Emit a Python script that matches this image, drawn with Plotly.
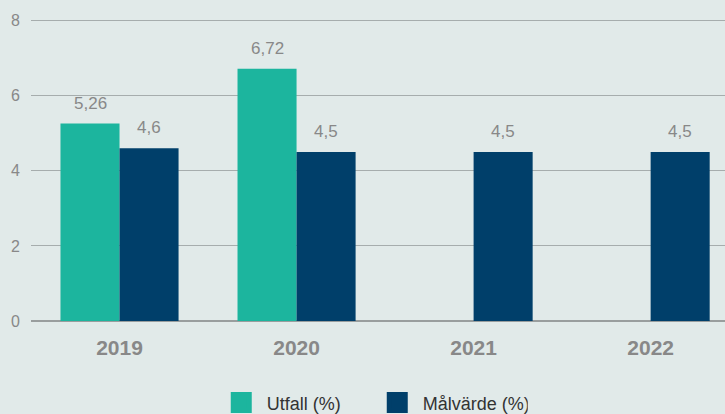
import plotly.graph_objects as go

# ---- Data ----
years = ["2019", "2020", "2021", "2022"]
utfall = [5.26, 6.72, None, None]
malvarde = [4.6, 4.5, 4.5, 4.5]

y_ticks = [0, 2, 4, 6, 8]

TEAL = "#1cb59e"
NAVY = "#003f6a"
BG = "#e1eae9"
GREY = "#888888"

fig = go.Figure()

# Bars (legend drawn by dummy traces below for big square icons)
fig.add_trace(go.Bar(x=years, y=utfall, name="Utfall (%)", marker=dict(color=TEAL, line_width=0), showlegend=False))
fig.add_trace(go.Bar(x=years, y=malvarde, name="Målvärde (%)", marker=dict(color=NAVY, line_width=0), showlegend=False))

# Legend entries
for name, color in [("Utfall (%)", TEAL), ("Målvärde (%)", NAVY)]:
    fig.add_trace(go.Scatter(
        x=[None], y=[None], mode="markers", name=name,
        marker=dict(symbol="square", size=18, color=color, line=dict(color=color, width=5)),
    ))

# Value labels above bars (x as category index; "2019" would be read as an index)
for series, shift in [(utfall, -29.5), (malvarde, 29.5)]:
    for i, v in enumerate(series):
        if v is None:
            continue
        fig.add_annotation(
            x=i, y=v, text=f"{v:g}".replace(".", ","),
            showarrow=False, yanchor="bottom", yshift=9, xshift=shift,
            font=dict(size=17, color=GREY),
        )

fig.update_layout(
    width=725, height=414,
    margin=dict(l=31, r=0, t=17, b=93),
    paper_bgcolor=BG, plot_bgcolor=BG,
    font=dict(family="Liberation Sans, Arial, sans-serif"),
    barmode="group",
    bargap=0.333, bargroupgap=0,
    xaxis=dict(
        type="category",
        range=[-0.5, 3.42],
        showgrid=False,
        tickfont=dict(size=21, color=GREY, weight="bold"),
        ticks="", ticklabelstandoff=12,
    ),
    yaxis=dict(
        range=[0, 8.1], tickvals=y_ticks,
        showgrid=True, gridcolor="#a6adad", gridwidth=1,
        zeroline=True, zerolinecolor="#999e9e", zerolinewidth=2,
        tickfont=dict(size=16, color=GREY),
        ticks="", ticklabelstandoff=10,
    ),
    legend=dict(
        orientation="h", x=0.491, xanchor="center",
        yref="container", y=0.027, yanchor="middle",
        font=dict(size=18, color="#333333"),
        itemwidth=41, entrywidth=100, bgcolor="rgba(0,0,0,0)",
    ),
    showlegend=True,
)

fig.write_html("out.html", config={"displayModeBar": False},
               post_script="document.body.style.margin='0';")
